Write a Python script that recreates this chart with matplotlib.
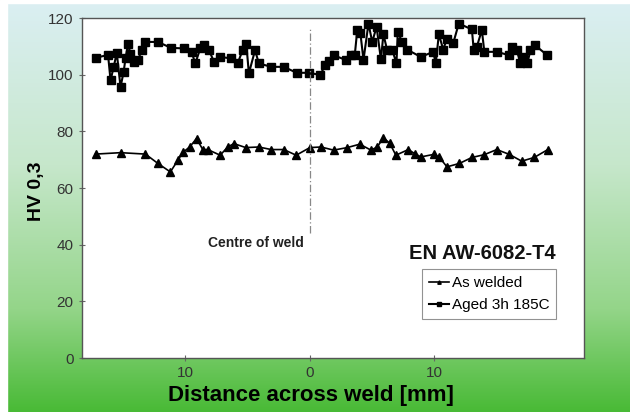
import numpy as np
import matplotlib.pyplot as plt
from matplotlib.colors import LinearSegmentedColormap

# Hardness profile across the weld, EN AW-6082-T4
x_as_welded = [-17.2, -15.2, -13.2, -12.2, -11.2, -10.6, -10.2, -9.65, -9.1, -8.6,
               -8.2, -7.2, -6.6, -6.1, -5.15, -4.1, -3.1, -2.1, -1.1, 0.0,
               0.9, 1.9, 3.0, 4.0, 4.9, 5.4, 5.9, 6.4, 6.9, 7.9,
               8.4, 8.9, 9.95, 10.4, 11.0, 12.0, 13.0, 14.0, 15.0, 16.0,
               17.0, 18.0, 19.1]
hv_as_welded = [72, 72.5, 72, 68.7, 65.7, 69.8, 72.6, 74.5, 77.5, 73.6,
                73.6, 71.6, 74.5, 75.7, 74.3, 74.5, 73.6, 73.6, 71.6, 74.3,
                74.5, 73.4, 74.3, 75.5, 73.4, 74.5, 77.7, 75.9, 71.6, 73.6,
                72.2, 71.0, 71.9, 70.8, 67.5, 68.7, 70.8, 71.8, 73.6, 71.9,
                69.5, 70.8, 73.6]

x_aged = [-17.2, -16.2, -16.0, -15.75, -15.5, -15.2, -14.95, -14.8, -14.6, -14.4,
          -14.15, -13.8, -13.5, -13.2, -12.2, -11.15, -10.1, -9.5, -9.2, -8.8,
          -8.5, -8.1, -7.7, -7.25, -6.3, -5.8, -5.4, -5.1, -4.9, -4.4,
          -4.1, -3.1, -2.1, -1.06, -0.06, 0.85, 1.2, 1.5, 1.9, 2.9,
          3.3, 3.6, 3.8, 4.05, 4.3, 4.7, 5.0, 5.35, 5.7, 5.9,
          6.2, 6.6, 6.95, 7.05, 7.4, 7.8, 8.9, 9.9, 10.1, 10.35,
          10.7, 11.0, 11.5, 11.95, 13.0, 13.15, 13.4, 13.8, 14.0, 15.0,
          16.0, 16.2, 16.6, 16.9, 17.1, 17.45, 17.7, 18.05, 19.05]
hv_aged = [106, 107, 98, 102.8, 107.7, 95.7, 101, 105.8, 110.7, 107.5,
           104.6, 105.2, 108.7, 111.6, 111.6, 109.5, 109.3, 108.1, 104, 109.3,
           110.5, 108.7, 104.6, 106.3, 105.8, 104, 108.7, 110.7, 100.5, 108.7,
           104, 102.8, 102.8, 100.7, 100.7, 99.9, 103.4, 104.8, 106.9, 105.2,
           106.9, 106.9, 115.8, 114.8, 105.2, 118.1, 111.6, 116.9, 105.4, 114.3,
           108.7, 108.7, 104.2, 115.2, 111.6, 108.9, 106.3, 108.1, 104, 114.3,
           108.9, 112.8, 111.1, 118.1, 116, 108.7, 109.9, 115.8, 108.1, 108.1,
           106.9, 109.9, 108.7, 104, 106.3, 104, 108.7, 110.5, 106.9]

x_ticks = [-10, 0, 10]
x_tick_labels = ["10", "0", "10"]
y_ticks = [0, 20, 40, 60, 80, 100, 120]

plt.rcParams['font.family'] = ['Liberation Sans', 'DejaVu Sans']

fig = plt.figure(figsize=(6.3, 4.12), dpi=100)

# gradient background
bg = fig.add_axes([0, 0, 1, 1], zorder=-10)
cmap = LinearSegmentedColormap.from_list(
    "bg", [(0.0, "#dbeff3"), (0.4, "#c6e7cb"), (0.75, "#94d589"), (1.0, "#49ba36")])
grad = np.linspace(0, 1, 256).reshape(-1, 1)
bg.imshow(grad, aspect="auto", cmap=cmap, extent=[0, 1, 0, 1], origin="upper")
bg.axvspan(0, 0.011, color="white")
bg.axhspan(0.992, 1, color="white")
bg.set_xlim(0, 1)
bg.set_ylim(0, 1)
bg.axis("off")

ax = fig.add_axes([0.130, 0.131, 0.797, 0.825])
ax.set_facecolor("white")

ax.plot(x_as_welded, hv_as_welded, color="black", lw=1.2, marker="^", ms=5.5,
        label="As welded")
ax.plot(x_aged, hv_aged, color="black", lw=1.5, marker="s", ms=5.5,
        label="Aged 3h 185C")

ax.plot([0, 0], [44, 116], color="#888888", lw=0.9, ls=(0, (6, 2, 1, 2)))
ax.text(-0.45, 40.5, "Centre of weld", ha="right", va="center", fontsize=10,
        fontweight="bold", color="#222222")

ax.text(0.797, 0.308, "EN AW-6082-T4", transform=ax.transAxes, ha="center",
        va="center", fontsize=14.5, fontweight="bold", color="#111111")
leg = ax.legend(loc="upper left", bbox_to_anchor=(0.662, 0.283),
                prop={"size": 11}, frameon=True, fancybox=False,
                handlelength=1.3, handletextpad=0.2, borderpad=0.45, labelspacing=0.5,
                markerscale=0.45)
leg.get_frame().set_edgecolor("#777777")
leg.get_frame().set_linewidth(0.8)

ax.set_xlim(-18.3, 22.0)
ax.set_ylim(0, 120)
ax.set_xticks(x_ticks)
ax.set_xticklabels(x_tick_labels)
ax.set_yticks(y_ticks)
ax.tick_params(direction="inout", length=5, color="#666666", labelcolor="#333333",
               labelsize=11)
for s in ax.spines.values():
    s.set_color("#555555")
    s.set_linewidth(1.0)

ax.set_xlabel("Distance across weld [mm]", fontsize=16, fontweight="bold")
ax.xaxis.set_label_coords(0.456, -0.078)
ax.set_ylabel("HV 0,3", fontsize=14, fontweight="bold")
ax.yaxis.set_label_coords(-0.074, 0.49)

fig.savefig("out.png", dpi=100)
